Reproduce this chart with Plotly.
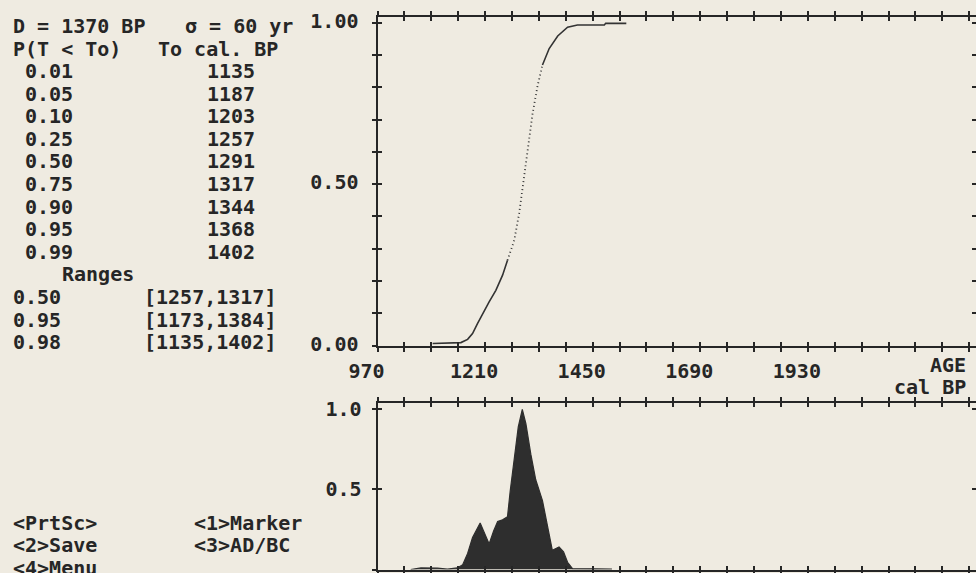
import plotly.graph_objects as go

W, H = 976, 573

# ---------------- data ----------------
conv_age_bp = 1370
sigma_yr = 60

probs = [0.01, 0.05, 0.10, 0.25, 0.50, 0.75, 0.90, 0.95, 0.99]
to_cal_bp = [1135, 1187, 1203, 1257, 1291, 1317, 1344, 1368, 1402]

range_levels = [0.50, 0.95, 0.98]
range_lo = [1257, 1173, 1135]
range_hi = [1317, 1384, 1402]

menu_left = ["<PrtSc>", "<2>Save", "<4>Menu"]
menu_right = ["<1>Marker", "<3>AD/BC", ""]

x_tick_labels = [970, 1210, 1450, 1690, 1930]
top_y_tickvals = [0.0, 0.5, 1.0]
top_y_ticktext = ["0.00", "0.50", "1.00"]
bot_y_tickvals = [0.0, 0.5, 1.0]
bot_y_ticktext = ["0.0", "0.5", "1.0"]

# cumulative probability P(T < To)
cdf_age = [1093, 1156, 1171, 1182, 1193, 1208, 1219, 1234, 1249, 1260, 1275, 1286,
           1293, 1305, 1316, 1327, 1338, 1353, 1372, 1394, 1416, 1476, 1479, 1525]
cdf_p = [0.006, 0.009, 0.019, 0.037, 0.068, 0.109, 0.135, 0.171, 0.218, 0.264, 0.326, 0.409,
         0.487, 0.605, 0.719, 0.804, 0.869, 0.920, 0.959, 0.986, 0.993, 0.993, 0.998, 0.998]

# relative probability distribution
pdf_age = [1044, 1067, 1104, 1126, 1148, 1160, 1171, 1182, 1199, 1209, 1219, 1229, 1238,
           1249, 1260, 1266, 1275, 1284, 1293, 1301, 1312, 1323, 1338, 1345, 1353, 1360,
           1375, 1385, 1394, 1405, 1450, 1493]
pdf_p = [0.0, 0.010, 0.008, 0.002, 0.010, 0.030, 0.100, 0.200, 0.290, 0.220, 0.160, 0.240,
         0.300, 0.310, 0.330, 0.490, 0.700, 0.890, 1.000, 0.910, 0.720, 0.560, 0.430, 0.330,
         0.200, 0.120, 0.140, 0.110, 0.045, 0.005, 0.004, 0.003]

# ---------------- style / layout helpers ----------------
BG = "#efebe1"
INK = "#262626"
FONT = dict(family="DejaVu Sans Mono", size=20, color=INK, weight="bold")


def px_x(p):
    return p / W


def px_y(p):
    return 1 - p / H


XL, XR = 377.5, 975.5
PX_PER_YR = 0.4483
X_RANGE = [970, 970 + (XR - XL) / PX_PER_YR]
TOP_DOM = [px_y(345.5), px_y(16.5)]
BOT_DOM = [px_y(569.5), px_y(403.0)]
TOP_YMAX = (345.5 - 16.5) / (345.5 - 22.7)
BOT_YMAX = (569.5 - 403.0) / (569.5 - 409.3)

x_ticks = list(range(970, int(X_RANGE[1]) + 1, 60))
x_ticktext = [str(v) if v in x_tick_labels else "" for v in x_ticks]
top_y_ticks = [round(i * 0.1, 1) for i in range(11)]
top_y_text = [top_y_ticktext[top_y_tickvals.index(v)] if v in top_y_tickvals else "" for v in top_y_ticks]

fig = go.Figure()

# CDF: solid tails, dotted steep middle (as plotted point by point on screen)
i1 = cdf_age.index(1260)
i2 = cdf_age.index(1338)
for a, b, dash in [(0, i1 + 1, "solid"), (i1, i2 + 1, "1px,3px"), (i2, len(cdf_age), "solid")]:
    fig.add_trace(go.Scatter(x=cdf_age[a:b], y=cdf_p[a:b], mode="lines",
                             line=dict(color="#333333", width=1.6 if dash == "solid" else 1.8, dash=dash),
                             xaxis="x", yaxis="y", showlegend=False, hoverinfo="skip"))

fig.add_trace(go.Scatter(x=pdf_age, y=pdf_p, mode="lines", fill="tozeroy",
                         fillcolor="#2e2e2e", line=dict(color="#2e2e2e", width=1.2),
                         xaxis="x2", yaxis="y2", showlegend=False, hoverinfo="skip"))

# empty traces to make overlay axes (inner tick halves) render
fig.add_trace(go.Scatter(x=[None], y=[None], xaxis="x3", yaxis="y3", showlegend=False))
fig.add_trace(go.Scatter(x=[None], y=[None], xaxis="x4", yaxis="y4", showlegend=False))

axline = dict(showline=True, linewidth=2, linecolor=INK, showgrid=False, zeroline=False,
              tickcolor=INK, tickwidth=1.5, ticklen=4, mirror="allticks", automargin=False)

fig.update_layout(
    template="none",
    width=W, height=H,
    margin=dict(l=0, r=0, t=0, b=0, pad=0, autoexpand=False),
    paper_bgcolor=BG, plot_bgcolor=BG,
    font=FONT,
    showlegend=False,
    xaxis=dict(domain=[px_x(XL), px_x(XR)], range=X_RANGE, anchor="y",
               tickmode="array", tickvals=x_ticks, ticktext=x_ticktext, ticks="outside",
               tickfont=FONT, ticklabelshift=-11, ticklabelstandoff=2, **axline),
    yaxis=dict(domain=TOP_DOM, range=[0, TOP_YMAX], anchor="x",
               tickmode="array", tickvals=top_y_ticks, ticktext=top_y_text, ticks="outside",
               tickfont=FONT, ticklabelstandoff=9, ticklabelshift=-2, **axline),
    xaxis3=dict(overlaying="x", anchor="y", range=X_RANGE, tickmode="linear", tick0=970, dtick=60,
                ticks="inside", showticklabels=False, **axline),
    yaxis3=dict(overlaying="y", anchor="x", range=[0, TOP_YMAX], tickmode="linear", tick0=0, dtick=0.1,
                ticks="inside", showticklabels=False, **axline),
    xaxis2=dict(domain=[px_x(XL), px_x(XR)], range=X_RANGE, anchor="y2",
                tickmode="array", tickvals=x_ticks, ticks="outside", showticklabels=False, **axline),
    yaxis2=dict(domain=BOT_DOM, range=[0, BOT_YMAX], anchor="x2",
                tickmode="array", tickvals=bot_y_tickvals, ticktext=bot_y_ticktext, ticks="outside",
                tickfont=FONT, ticklabelstandoff=6, **axline),
    xaxis4=dict(overlaying="x2", anchor="y2", range=X_RANGE, tickmode="linear", tick0=970, dtick=60,
                ticks="inside", showticklabels=False, **axline),
    yaxis4=dict(overlaying="y2", anchor="x2", range=[0, BOT_YMAX], tickmode="array",
                tickvals=bot_y_tickvals, ticks="inside", showticklabels=False, **axline),
)

# ---------------- text panel ----------------
ROW0, ROWH = 26.0, 22.58


def row_y(r):
    return px_y(ROW0 + ROWH * r)


def txt(s, x, r, anchor="left"):
    fig.add_annotation(text=s, x=px_x(x), y=row_y(r), xref="paper", yref="paper",
                       xanchor=anchor, yanchor="middle", showarrow=False, font=FONT,
                       borderpad=0)


txt(f"D = {conv_age_bp} BP", 12, 0)
txt(f"σ = {sigma_yr} yr", 184, 0)
txt("P(T < To)", 12, 1)
txt("To cal. BP", 157, 1)
for k, (p, v) in enumerate(zip(probs, to_cal_bp)):
    txt(f"{p:.2f}", 24, 2 + k)
    txt(f"{v}", 206, 2 + k)
txt("Ranges", 61, 11)
for k, (lv, lo, hi) in enumerate(zip(range_levels, range_lo, range_hi)):
    txt(f"{lv:.2f}", 12, 12 + k)
    txt(f"[{lo},{hi}]", 143, 12 + k)
txt("AGE", 967, 15, anchor="right")
txt("cal BP", 967, 16, anchor="right")
for k, (a, b) in enumerate(zip(menu_left, menu_right)):
    txt(a.replace("<", "&lt;").replace(">", "&gt;"), 12, 22 + k)
    if b:
        txt(b.replace("<", "&lt;").replace(">", "&gt;"), 193, 22 + k)

fig.write_html("out.html", config={"displayModeBar": False},
               post_script="document.body.style.margin='0';document.body.style.overflow='hidden';")
